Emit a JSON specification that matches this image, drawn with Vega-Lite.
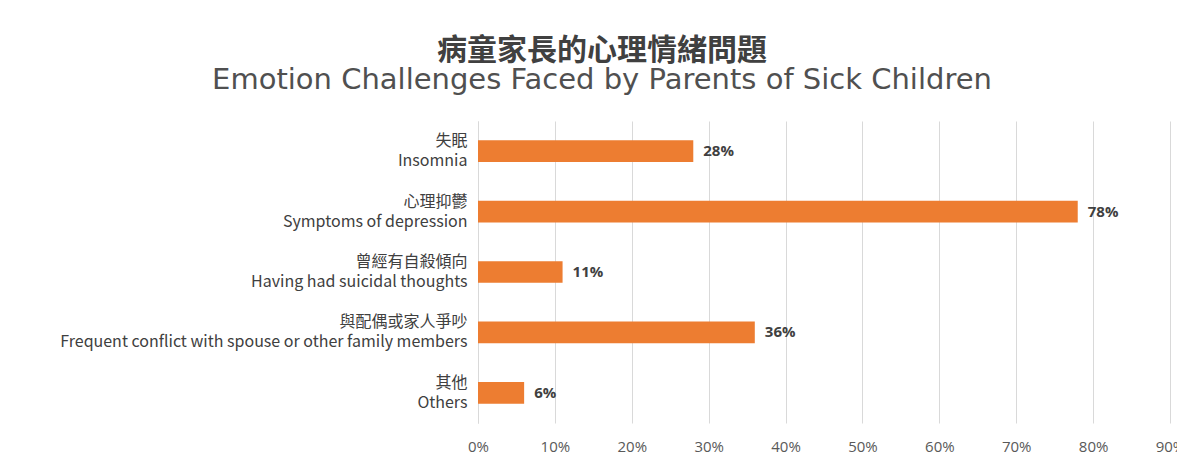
{
  "$schema": "https://vega.github.io/schema/vega-lite/v6.json",
  "autosize": {"type": "none"},
  "width": 692,
  "height": 302,
  "padding": {"left": 478, "top": 121, "right": 7, "bottom": 49},
  "background": "white",
  "config": {"view": {"stroke": null}},
  "title": {
    "text": "病童家長的心理情緒問題",
    "subtitle": "Emotion Challenges Faced by Parents of Sick Children",
    "anchor": "middle",
    "dx": -222,
    "offset": 26,
    "font": "Noto Sans CJK TC",
    "fontSize": 30,
    "fontWeight": "bold",
    "color": "#404040",
    "subtitleFont": "DejaVu Sans",
    "subtitleFontSize": 29,
    "subtitleColor": "#505050",
    "subtitlePadding": 0
  },
  "data": {
    "values": [
      {"label": "失眠|Insomnia", "value": 0.28},
      {"label": "心理抑鬱|Symptoms of depression", "value": 0.78},
      {"label": "曾經有自殺傾向|Having had suicidal thoughts", "value": 0.11},
      {"label": "與配偶或家人爭吵|Frequent conflict with spouse or other family members", "value": 0.36},
      {"label": "其他|Others", "value": 0.06}
    ]
  },
  "encoding": {
    "y": {
      "field": "label",
      "type": "nominal",
      "sort": null,
      "scale": {"paddingInner": 0.64, "paddingOuter": 0.32},
      "axis": {
        "title": null,
        "labelExpr": "split(datum.value, '|')",
        "labelLineHeight": 20,
        "labelOffset": -10,
        "labelFont": "Noto Sans CJK TC",
        "labelFontSize": 16,
        "labelColor": "#404040",
        "labelPadding": 11,
        "ticks": false,
        "domainColor": "#d9d9d9",
        "labelLimit": 500
      }
    },
    "x": {
      "field": "value",
      "type": "quantitative",
      "scale": {"domain": [0, 0.9], "nice": false},
      "axis": {
        "title": null,
        "format": ".0%",
        "values": [0, 0.1, 0.2, 0.3, 0.4, 0.5, 0.6, 0.7, 0.8, 0.9],
        "grid": true,
        "gridColor": "#d9d9d9",
        "domain": false,
        "ticks": false,
        "labelFont": "Open Sans",
        "labelFontSize": 15,
        "labelColor": "#595959",
        "labelPadding": 16,
        "labelFlush": false
      }
    }
  },
  "layer": [
    {"mark": {"type": "bar", "color": "#ED7D31"}},
    {
      "mark": {"type": "text", "align": "left", "dx": 10, "font": "Open Sans", "fontWeight": "bold", "fontSize": 15, "color": "#404040"},
      "encoding": {"text": {"field": "value", "type": "quantitative", "format": ".0%"}}
    }
  ]
}
